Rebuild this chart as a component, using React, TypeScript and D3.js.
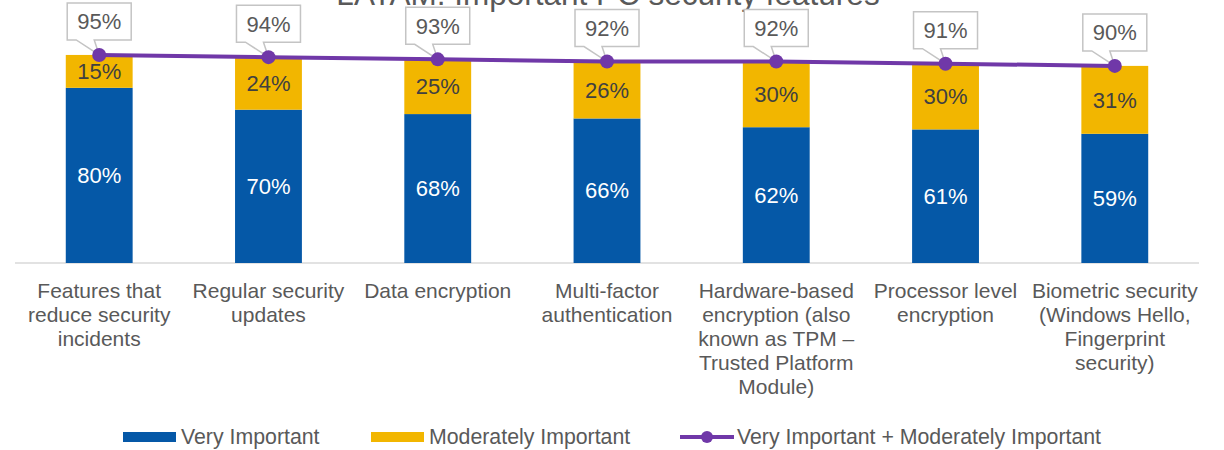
import { useEffect, useRef } from "react";
import * as d3 from "d3";

const categories = [
  ["Features that", "reduce security", "incidents"],
  ["Regular security", "updates"],
  ["Data encryption"],
  ["Multi-factor", "authentication"],
  ["Hardware-based", "encryption (also", "known as TPM –", "Trusted Platform", "Module)"],
  ["Processor level", "encryption"],
  ["Biometric security", "(Windows Hello,", "Fingerprint", "security)"],
];
const veryImportant = [80, 70, 68, 66, 62, 61, 59];
const moderatelyImportant = [15, 24, 25, 26, 30, 30, 31];
const combined = [95, 94, 93, 92, 92, 91, 90];

const BLUE = "#0558A7";
const YELLOW = "#F2B600";
const PURPLE = "#7038A8";
const GREY = "#595959";
const FONT = "'Liberation Sans', Arial, sans-serif";

const App = () => {
  const svgRef = useRef<SVGSVGElement>(null);

  useEffect(() => {
    const width = 1224;
    const height = 450;
    const svg = d3.select(svgRef.current);
    svg.selectAll("*").remove();

    const keys = categories.map((_, i) => String(i));
    const x = d3.scaleBand().domain(keys).range([15, 1199]).paddingInner(0.605).paddingOuter(0.3);
    const y = d3.scaleLinear().domain([0, 100]).range([263, 44]);
    const cx = (i: number) => (x(String(i)) as number) + x.bandwidth() / 2;

    // title (cut off at the top, as in the original)
    svg.append("text")
      .attr("x", 608).attr("y", 5)
      .attr("text-anchor", "middle")
      .style("font-family", FONT).style("font-size", "31.5px").style("fill", GREY)
      .text("LATAM: Important PC security features");

    // axis line
    svg.append("line")
      .attr("x1", 15).attr("x2", 1199).attr("y1", y(0)).attr("y2", y(0))
      .style("stroke", "#D9D9D9").style("stroke-width", 1.5);

    // stacked bars
    const g = svg.append("g");
    veryImportant.forEach((v, i) => {
      const m = moderatelyImportant[i];
      g.append("rect")
        .attr("x", x(String(i)) as number).attr("width", x.bandwidth())
        .attr("y", y(v)).attr("height", y(0) - y(v))
        .style("fill", BLUE);
      g.append("rect")
        .attr("x", x(String(i)) as number).attr("width", x.bandwidth())
        .attr("y", y(v + m)).attr("height", y(v) - y(v + m))
        .style("fill", YELLOW);
      g.append("text")
        .attr("x", cx(i)).attr("y", (y(0) + y(v)) / 2).attr("dy", "0.35em")
        .attr("text-anchor", "middle")
        .style("font-family", FONT).style("font-size", "22px").style("fill", "#FFFFFF")
        .text(`${v}%`);
      g.append("text")
        .attr("x", cx(i)).attr("y", (y(v) + y(v + m)) / 2).attr("dy", "0.35em")
        .attr("text-anchor", "middle")
        .style("font-family", FONT).style("font-size", "22px").style("fill", "#404040")
        .text(`${m}%`);
    });

    // total line
    const line = d3.line<number>().x((_, i) => cx(i)).y(d => y(d));
    svg.append("path")
      .datum(combined)
      .style("fill", "none").style("stroke", PURPLE).style("stroke-width", 4)
      .attr("d", line);

    // callouts
    combined.forEach((d, i) => {
      const px = cx(i);
      const py = y(d);
      const bw = 64, bh = 37;
      const bottom = py - 15;
      const top = bottom - bh;
      const left = px - bw / 2, right = px + bw / 2;
      const path = `M${left},${top}H${right}V${bottom}H${px - 5}L${px},${py}L${px - 23},${bottom}H${left}Z`;
      svg.append("path")
        .attr("d", path)
        .style("fill", "#FFFFFF").style("stroke", "#C4C4C4").style("stroke-width", 1.5);
      svg.append("text")
        .attr("x", px).attr("y", (top + bottom) / 2).attr("dy", "0.36em")
        .attr("text-anchor", "middle")
        .style("font-family", FONT).style("font-size", "22px").style("fill", GREY)
        .text(`${d}%`);
    });

    svg.selectAll("circle.dot")
      .data(combined)
      .enter().append("circle")
      .attr("class", "dot")
      .attr("cx", (_, i) => cx(i)).attr("cy", d => y(d)).attr("r", 7)
      .style("fill", PURPLE);

    // category labels
    categories.forEach((lines, i) => {
      const t = svg.append("text")
        .attr("text-anchor", "middle")
        .style("font-family", FONT).style("font-size", "21px").style("fill", GREY);
      lines.forEach((l, j) => {
        t.append("tspan").attr("x", cx(i)).attr("y", 298 + j * 24).text(l);
      });
    });

    // legend
    const lg = svg.append("g").style("font-family", FONT).style("font-size", "21.3px").style("fill", GREY);
    lg.append("rect").attr("x", 123).attr("y", 432).attr("width", 53).attr("height", 10).style("fill", BLUE);
    lg.append("text").attr("x", 181).attr("y", 444).text("Very Important");
    lg.append("rect").attr("x", 371).attr("y", 432).attr("width", 53).attr("height", 10).style("fill", YELLOW);
    lg.append("text").attr("x", 429).attr("y", 444).text("Moderately Important");
    lg.append("line").attr("x1", 680).attr("x2", 734).attr("y1", 437).attr("y2", 437)
      .style("stroke", PURPLE).style("stroke-width", 4);
    lg.append("circle").attr("cx", 707).attr("cy", 437).attr("r", 6).style("fill", PURPLE);
    lg.append("text").attr("x", 737).attr("y", 444).text("Very Important + Moderately Important");

    svg.attr("width", width).attr("height", height);
  }, []);

  return (
    <svg
      ref={svgRef}
      width={1224}
      height={450}
      style={{ position: "absolute", left: 0, top: 0, background: "#FFFFFF" }}
    />
  );
};

export default App;
